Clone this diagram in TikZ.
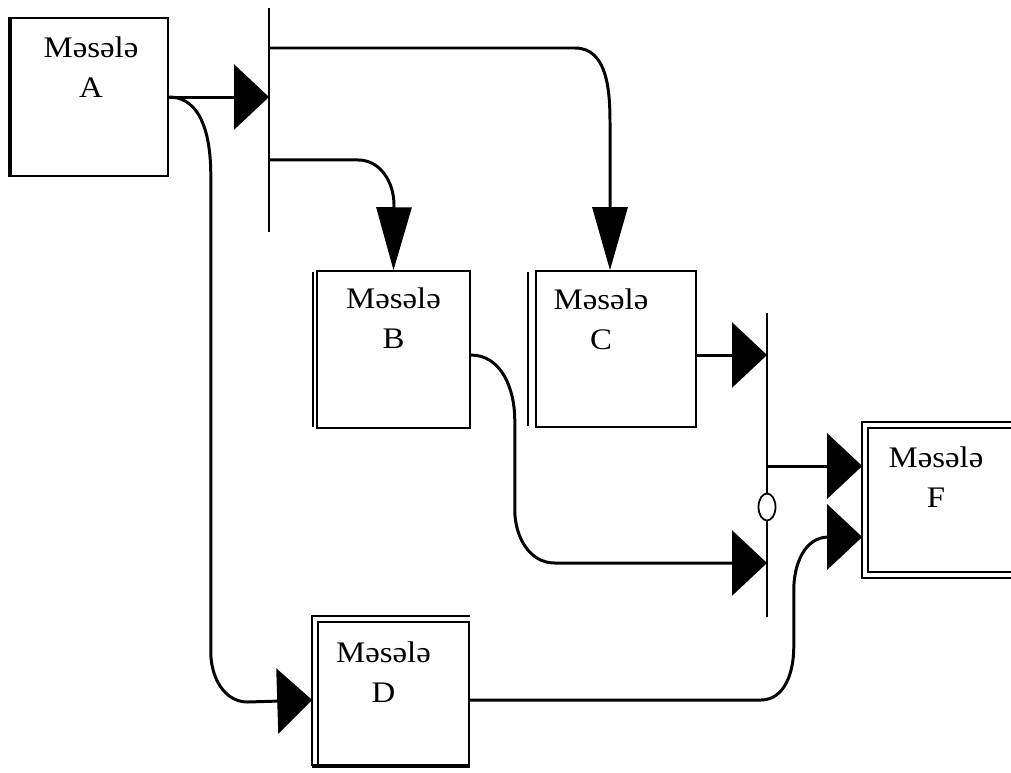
\documentclass[tikz,border=0pt]{standalone}
\usepackage{fontspec}
\setmainfont{Liberation Serif}[FakeStretch=1.1]
\usetikzlibrary{arrows.meta,positioning,shapes.geometric}

\tikzset{
  task/.style={draw, line width=0.9pt, fill=white, inner sep=0pt},
  lbl/.style={font=\fontsize{17}{22.7}\selectfont, align=center, anchor=north, inner sep=0pt},
  flow/.style={line width=1.7pt},
  htip/.style={-{Triangle[length=0.7cm,width=1.3cm]}},
  vtip/.style={-{Triangle[length=1.26cm,width=0.7cm]}},
  bar/.style={line width=1.6pt},
}

\begin{document}
\begin{tikzpicture}[x=0.02cm,y=-0.02cm]
  \useasboundingbox (0,0) rectangle (1011,772);
  \clip (0,0) rectangle (1011,772);

  % Boxes
  \node[task, minimum width=3.14cm, minimum height=3.16cm] (A) at (89.5,97) {};
  \node[task, minimum width=3.06cm, minimum height=3.14cm] (B) at (393.5,349.5) {};
  \node[task, minimum width=3.2cm, minimum height=3.12cm] (C) at (616,349) {};
  \node[task, minimum width=3.02cm, minimum height=2.86cm] (D) at (393.5,693.5) {};
  \node[task, minimum width=3.44cm, minimum height=2.88cm] (F) at (954,500) {};

  % Extra edges of the boxes
  \draw[line width=2.2pt] (A.north west) -- (A.south west);
  \draw[line width=1.1pt] ([xshift=-0.07cm,yshift=-0.04cm]B.north west) -- ([xshift=-0.07cm,yshift=0.04cm]B.south west);
  \draw[line width=1.1pt] ([xshift=-0.14cm,yshift=-0.04cm]C.north west) -- ([xshift=-0.14cm,yshift=0.04cm]C.south west);
  \draw[line width=1.1pt] ([xshift=-0.1cm]D.south west) -- ([xshift=-0.1cm,yshift=0.1cm]D.north west) -- ([yshift=0.1cm]D.north east);
  \draw[line width=2pt] ([xshift=-0.1cm]D.south west) -- (D.south east);
  \draw[line width=1.3pt] ([xshift=-0.1cm,yshift=0.1cm]F.north west) rectangle ([xshift=0.1cm,yshift=-0.1cm]F.south east);

  % Labels
  \foreach \n/\dx/\dy in {A/0.03/0.38, B/0/0.34, C/-0.3/0.36, D/-0.2/0.4, F/-0.36/0.38}
    \node[lbl] (\n text) at ([xshift=\dx cm, yshift=-\dy cm]\n.north) {Məsələ\\\n};

  % Junction bars
  \coordinate (J1top) at (269,8);
  \coordinate (J1bot) at (269,232);
  \coordinate (J2top) at (767,313);
  \coordinate (J2bot) at (767,617);
  \draw[bar] (J1top) -- (J1bot);
  \draw[bar] (J2top) -- (J2bot);
  \node[draw, ellipse, fill=white, line width=1pt, inner sep=0pt,
        minimum width=0.34cm, minimum height=0.54cm] (ring) at (767,507) {};

  % Arrow ends at F
  \coordinate (Fin1) at ([xshift=-0.1cm,yshift=0.68cm]F.west);
  \coordinate (Fin2) at ([xshift=-0.1cm,yshift=-0.74cm]F.west);
  \coordinate (Din) at ([xshift=-0.1cm,yshift=-0.13cm]D.west);

  % Connectors
  \draw[flow, htip] (A.east) -- (J1top |- A.east);
  \draw[flow, vtip] ([yshift=-0.8cm]J1top) -- ++(306,0) to[out=0,in=90] ++(35,75)
    -- ([xshift=-0.12cm]C.north);
  \draw[flow, vtip] ([yshift=-3.04cm]J1top) -- ++(89,0) to[out=0,in=90] ++(36,45) -- (B.north);
  \draw[flow, htip] (A.east) to[out=0,in=90] ++(42,78) -- ++(0,477)
    to[out=-90,in=180] ++(37,50) -- (Din);
  \draw[flow, htip] ([yshift=-0.12cm]C.east) coordinate (cout) -- (J2top |- cout);
  \draw[flow, htip] ([yshift=-0.11cm]B.east) to[out=0,in=90] ++(44,65) -- ++(0,90)
    to[out=-90,in=180] ++(40,53) coordinate (bturn) -- (J2top |- bturn);
  \draw[flow, htip] (J2top |- Fin1) -- (Fin1);
  \draw[flow, htip] ([yshift=-0.13cm]D.east) -- ++(291,0) to[out=0,in=-90] ++(33,-53)
    -- ++(0,-57) to[out=90,in=180] ++(35,-53) -- (Fin2);
\end{tikzpicture}
\end{document}
